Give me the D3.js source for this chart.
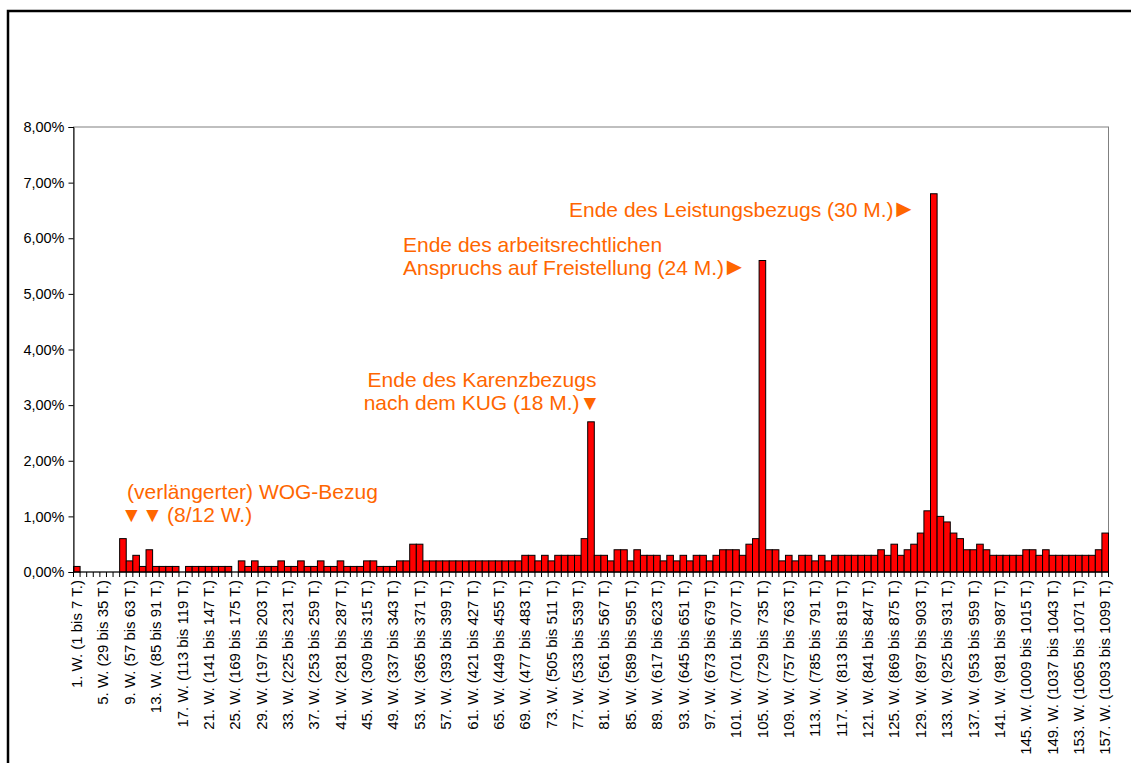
<!DOCTYPE html>
<meta charset="utf-8">
<style>
  body { margin: 0; background: #fff; }
  svg { font-family: "Liberation Sans", Arial, sans-serif; }
  .bar { fill: #ff0000; stroke: #000; stroke-width: 1px; }
  .y-label { font-size: 14.5px; fill: #000; }
  .x-label { font-size: 15px; fill: #000; }
  .note { font-size: 21px; fill: #ff6600; }
</style>
<body>
<script src="https://cdnjs.cloudflare.com/ajax/libs/d3/7.8.5/d3.min.js"></script>
<script>

  // Weeks 1..157 (categories)
  var weeks = d3.range(1, 158);

  // Share per week in percent (rows of 10 weeks)
  var shares = [
    0.1, 0, 0, 0, 0, 0, 0, 0.6, 0.2, 0.3,
    0.1, 0.4, 0.1, 0.1, 0.1, 0.1, 0, 0.1, 0.1, 0.1,
    0.1, 0.1, 0.1, 0.1, 0, 0.2, 0.1, 0.2, 0.1, 0.1,
    0.1, 0.2, 0.1, 0.1, 0.2, 0.1, 0.1, 0.2, 0.1, 0.1,
    0.2, 0.1, 0.1, 0.1, 0.2, 0.2, 0.1, 0.1, 0.1, 0.2,
    0.2, 0.5, 0.5, 0.2, 0.2, 0.2, 0.2, 0.2, 0.2, 0.2,
    0.2, 0.2, 0.2, 0.2, 0.2, 0.2, 0.2, 0.2, 0.3, 0.3,
    0.2, 0.3, 0.2, 0.3, 0.3, 0.3, 0.3, 0.6, 2.7, 0.3,
    0.3, 0.2, 0.4, 0.4, 0.2, 0.4, 0.3, 0.3, 0.3, 0.2,
    0.3, 0.2, 0.3, 0.2, 0.3, 0.3, 0.2, 0.3, 0.4, 0.4,
    0.4, 0.3, 0.5, 0.6, 5.6, 0.4, 0.4, 0.2, 0.3, 0.2,
    0.3, 0.3, 0.2, 0.3, 0.2, 0.3, 0.3, 0.3, 0.3, 0.3,
    0.3, 0.3, 0.4, 0.3, 0.5, 0.3, 0.4, 0.5, 0.7, 1.1,
    6.8, 1.0, 0.9, 0.7, 0.6, 0.4, 0.4, 0.5, 0.4, 0.3,
    0.3, 0.3, 0.3, 0.3, 0.4, 0.4, 0.3, 0.4, 0.3, 0.3,
    0.3, 0.3, 0.3, 0.3, 0.3, 0.4, 0.7
  ];

  var yTicks = [0, 1, 2, 3, 4, 5, 6, 7, 8];

  // Every fourth week is labelled
  var tickLabels = [
    "1. W. (1 bis 7 T.)", "5. W. (29 bis 35 T.)", "9. W. (57 bis 63 T.)",
    "13. W. (85 bis 91 T.)", "17. W. (113 bis 119 T.)", "21. W. (141 bis 147 T.)",
    "25. W. (169 bis 175 T.)", "29. W. (197 bis 203 T.)", "33. W. (225 bis 231 T.)",
    "37. W. (253 bis 259 T.)", "41. W. (281 bis 287 T.)", "45. W. (309 bis 315 T.)",
    "49. W. (337 bis 343 T.)", "53. W. (365 bis 371 T.)", "57. W. (393 bis 399 T.)",
    "61. W. (421 bis 427 T.)", "65. W. (449 bis 455 T.)", "69. W. (477 bis 483 T.)",
    "73. W. (505 bis 511 T.)", "77. W. (533 bis 539 T.)", "81. W. (561 bis 567 T.)",
    "85. W. (589 bis 595 T.)", "89. W. (617 bis 623 T.)", "93. W. (645 bis 651 T.)",
    "97. W. (673 bis 679 T.)", "101. W. (701 bis 707 T.)", "105. W. (729 bis 735 T.)",
    "109. W. (757 bis 763 T.)", "113. W. (785 bis 791 T.)", "117. W. (813 bis 819 T.)",
    "121. W. (841 bis 847 T.)", "125. W. (869 bis 875 T.)", "129. W. (897 bis 903 T.)",
    "133. W. (925 bis 931 T.)", "137. W. (953 bis 959 T.)", "141. W. (981 bis 987 T.)",
    "145. W. (1009 bis 1015 T.)", "149. W. (1037 bis 1043 T.)", "153. W. (1065 bis 1071 T.)",
    "157. W. (1093 bis 1099 T.)"
  ];

  var data = weeks.map(function(w, i) { return {week: w, value: shares[i]}; });

  var plotLeft = 73.5, plotRight = 1108.5, plotTop = 127, plotBottom = 572;

  var svg = d3.select("body").append("svg")
    .attr("width", 1131)
    .attr("height", 763);

  // Outer frame (runs off the right and bottom edge)
  svg.append("rect")
    .attr("x", 8).attr("y", 11)
    .attr("width", 1200).attr("height", 900)
    .attr("fill", "none")
    .attr("stroke", "#000")
    .attr("stroke-width", 2.5);

  var x = d3.scaleBand()
    .domain(weeks)
    .range([plotLeft, plotRight])
    .padding(0);

  var y = d3.scaleLinear()
    .domain([0, 8])
    .range([plotBottom, plotTop]);

  // Plot area border
  svg.append("rect")
    .attr("x", plotLeft).attr("y", plotTop)
    .attr("width", plotRight - plotLeft).attr("height", plotBottom - plotTop)
    .attr("fill", "none")
    .attr("stroke", "#808080")
    .attr("stroke-width", 1);

  // Bars
  svg.selectAll(".bar")
    .data(data.filter(function(d) { return d.value > 0; }))
    .enter().append("rect")
    .attr("class", "bar")
    .attr("x", function(d) { return x(d.week); })
    .attr("y", function(d) { return y(d.value); })
    .attr("width", x.bandwidth())
    .attr("height", function(d) { return y(0) - y(d.value); });

  // Left axis
  var fmt = d3.format(".2f");
  var yAxis = svg.append("g")
    .attr("transform", "translate(" + plotLeft + ",0)")
    .call(d3.axisLeft(y).tickValues(yTicks).tickSize(5).tickPadding(4)
      .tickFormat(function(d) { return fmt(d).replace(".", ",") + "%"; }));
  yAxis.attr("font-family", null).attr("font-size", null);
  yAxis.select(".domain").attr("stroke", "#000");
  yAxis.selectAll("text").attr("class", "y-label");

  // Bottom axis line with ticks between categories
  var xg = svg.append("g");
  xg.append("line")
    .attr("x1", plotLeft).attr("x2", plotRight)
    .attr("y1", plotBottom).attr("y2", plotBottom)
    .attr("stroke", "#000");
  xg.selectAll(".xtick")
    .data(weeks.concat([158]))
    .enter().append("line")
    .attr("x1", function(w) { return w === 158 ? plotRight : x(w); })
    .attr("x2", function(w) { return w === 158 ? plotRight : x(w); })
    .attr("y1", plotBottom).attr("y2", plotBottom + 5)
    .attr("stroke", "#000");

  xg.selectAll(".xlabel")
    .data(tickLabels)
    .enter().append("text")
    .attr("class", "x-label")
    .attr("text-anchor", "end")
    .attr("dy", "0.35em")
    .attr("transform", function(t) {
      var w = parseInt(t, 10);
      return "translate(" + (x(w) + x.bandwidth() / 2) + "," + (plotBottom + 8) + ") rotate(-90)";
    })
    .text(function(t) { return t; });

  // Annotations
  function note(lines, px, py, anchor, marker) {
    var t = svg.append("text")
      .attr("class", "note")
      .attr("text-anchor", anchor || "start");
    lines.forEach(function(l, i) {
      t.append("tspan").attr("x", px).attr("y", py + i * 23).text(l);
      if (marker && i === lines.length - 1) {
        t.append("tspan").attr("font-size", "25px").attr("dx", -2).text(marker);
      }
    });
    return t;
  }

  note(["(verlängerter) WOG-Bezug"], 127, 499);
  var wog = svg.append("text").attr("class", "note").attr("y", 522);
  wog.append("tspan").attr("x", 121).text("\u25BC");
  wog.append("tspan").attr("x", 142).text("\u25BC");
  wog.append("tspan").attr("x", 167).text("(8/12 W.)");

  note(["Ende des Karenzbezugs", "nach dem KUG (18 M.)\u25BC"], 482, 387, "middle");
  note(["Ende des arbeitsrechtlichen", "Anspruchs auf Freistellung (24 M.)"], 403, 252, "start", "\u25BA");
  note(["Ende des Leistungsbezugs (30 M.)"], 569, 217, "start", "\u25BA");

</script>
